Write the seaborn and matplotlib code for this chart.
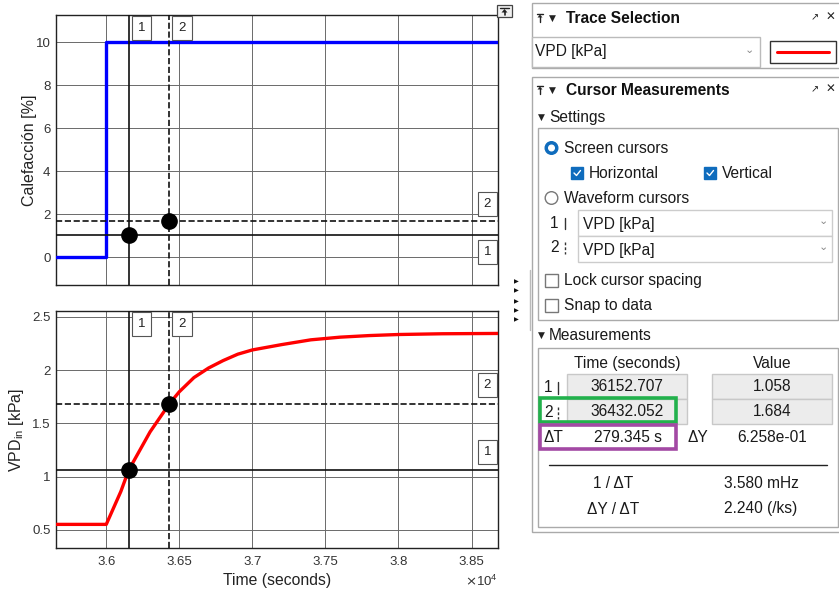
import numpy as np
import pandas as pd
import seaborn as sns
import matplotlib.pyplot as plt
from matplotlib.patches import Rectangle, Circle, Polygon

sns.set_style('white')
plt.rcParams['font.family'] = ['Liberation Sans', 'DejaVu Sans']

# signal data (time in seconds)
heat_t = [35656, 36000, 36000, 38681]
heat_v = [0, 0, 10, 10]
vpd_t = [35656, 36000, 36100, 36152.707, 36300, 36432.052, 36500, 36600, 36700, 36800,
         36900, 37000, 37200, 37400, 37600, 37800, 38000, 38300, 38681]
vpd_v = [0.55, 0.55, 0.86, 1.058, 1.42, 1.684, 1.797, 1.93, 2.02, 2.09,
         2.15, 2.19, 2.24, 2.285, 2.31, 2.325, 2.335, 2.342, 2.345]

# cursors
cursor_t = [36152.707, 36432.052]
cursor_v = [1.058, 1.684]
cursor_ls = ['-', '--']
cursor_lbl = ['1', '2']

xticks = [36000, 36500, 37000, 37500, 38000, 38500]
xtick_labels = ['3.6', '3.65', '3.7', '3.75', '3.8', '3.85']
top_yticks = [0, 2, 4, 6, 8, 10]
bot_yticks = [0.5, 1, 1.5, 2, 2.5]
bot_ytick_labels = ['0.5', '1', '1.5', '2', '2.5']

meas_time = ['36152.707', '36432.052']
meas_val = ['1.058', '1.684']
delta_t = '279.345 s'
delta_y = '6.258e-01'
inv_dt = '3.580 mHz'
dy_dt = '2.240 (/ks)'

W, H = 839, 591
fig = plt.figure(figsize=(W / 100, H / 100), dpi=100)


def px_axes(l, t, r, b):
    return fig.add_axes([l / W, 1 - b / H, (r - l) / W, (b - t) / H])


ax1 = px_axes(56, 15, 498, 285)
ax2 = px_axes(56, 311, 498, 548)

heat_df = pd.DataFrame({'t': heat_t, 'v': heat_v})
vpd_df = pd.DataFrame({'t': vpd_t, 'v': vpd_v})
sns.lineplot(data=heat_df, x='t', y='v', ax=ax1, color='#0000ff', lw=2.4,
             sort=False, estimator=None, zorder=3)
sns.lineplot(data=vpd_df, x='t', y='v', ax=ax2, color='#ff0000', lw=2.4,
             sort=False, estimator=None, zorder=3)

BOX = dict(boxstyle='square,pad=0.45', fc='white', ec='#555555', lw=0.8)

for ax in (ax1, ax2):
    ax.set_xlim(35656, 38681)
    ax.set_xticks(xticks)
    ax.grid(True, color='#6a6a6a', lw=0.7)
    ax.tick_params(length=0, labelsize=9.5, colors='#333333')
    ax.tick_params(axis='y', pad=4)
    ax.tick_params(axis='x', pad=6)
    for s in ax.spines.values():
        s.set_color('#222222')
        s.set_linewidth(1.0)
    ax.set_xlabel('')
    ax.set_ylabel('')
    for i in range(2):
        ax.axvline(cursor_t[i], color='#111111', ls=cursor_ls[i], lw=1.2, zorder=4)
        ax.axhline(cursor_v[i], color='#111111', ls=cursor_ls[i], lw=1.2, zorder=4)
        ax.plot(cursor_t[i], cursor_v[i], 'o', color='black', ms=11, zorder=5)
        ax.annotate(cursor_lbl[i], xy=(cursor_t[i], 1), xycoords=('data', 'axes fraction'),
                    xytext=(6.5, -4.8), textcoords='offset points', ha='left', va='top',
                    fontsize=9.5, color='#222222', bbox=BOX)

ax1.set_ylim(-1.29, 11.27)
ax1.set_yticks(top_yticks)
ax1.set_xticklabels([])
ax1.set_ylabel('Calefacción [%]', fontsize=11.5, color='#222222')
ax1.yaxis.set_label_coords(-19 / 442, 0.5)
# horizontal cursor tags (top): 2 above its line, 1 below its line
ax1.annotate('2', xy=(1, cursor_v[1]), xycoords=('axes fraction', 'data'),
             xytext=(-5, 8), textcoords='offset points', ha='right', va='bottom',
             fontsize=9.5, color='#222222', bbox=BOX)
ax1.annotate('1', xy=(1, cursor_v[0]), xycoords=('axes fraction', 'data'),
             xytext=(-5, -8.5), textcoords='offset points', ha='right', va='top',
             fontsize=9.5, color='#222222', bbox=BOX)

ax2.set_ylim(0.328, 2.556)
ax2.set_yticks(bot_yticks)
ax2.set_yticklabels(bot_ytick_labels)
ax2.set_xticklabels(xtick_labels)
ax2.set_ylabel(r'VPD$\mathregular{_{in}}$ [kPa]', fontsize=11.5, color='#222222')
ax2.yaxis.set_label_coords(-30 / 442, 0.5)
ax2.set_xlabel('Time (seconds)', fontsize=11.3, color='#222222', labelpad=3)
for i in range(2):
    ax2.annotate(cursor_lbl[i], xy=(1, cursor_v[i]), xycoords=('axes fraction', 'data'),
                 xytext=(-5, 9), textcoords='offset points', ha='right', va='bottom',
                 fontsize=9.5, color='#222222', bbox=BOX)

# overlay in pixel coordinates for the side panel
ov = fig.add_axes([0, 0, 1, 1], zorder=-1)
ov.set_xlim(0, W)
ov.set_ylim(H, 0)
ov.axis('off')
ov2 = fig.add_axes([0, 0, 1, 1], zorder=10)
ov2.set_xlim(0, W)
ov2.set_ylim(H, 0)
ov2.axis('off')
ov2.patch.set_alpha(0)

ov2.text(498, 581, r'$\times\mathregular{10^{4}}$', ha='right', va='center', fontsize=9.5, color='#333333')

# small maximize icon and arrows
ov2.add_patch(Rectangle((497, 5), 15, 12, fc='#f0f0f0', ec='#444444', lw=0.9))
ov2.plot([500, 509], [8, 8], color='#222222', lw=1)
ov2.add_patch(Polygon([[501.5, 12.5], [507.5, 12.5], [504.5, 9]], closed=True, fc='#222222', ec='none'))
ov2.plot([504.5, 504.5], [12, 15], color='#222222', lw=1.2)
for yy in [282, 291, 301.5, 311, 320]:
    ov2.text(516, yy, '▶', ha='center', va='center', fontsize=4.5, color='#111111')
ov.plot([530, 530], [270, 330], color='#bbbbbb', lw=1)

TXT = dict(fontsize=11.2, color='#1a1a1a', va='center')


def pin_icon(x, y):
    # small "pin/collapse" glyph drawn as a shape
    ov.plot([x - 3, x + 3], [y - 4.5, y - 4.5], color='#222222', lw=1)
    ov.add_patch(Polygon([[x - 2.5, y - 0.5], [x + 2.5, y - 0.5], [x, y - 3.5]], closed=True,
                         fc='#222222', ec='none'))
    ov.plot([x, x], [y - 1, y + 4], color='#222222', lw=1)


def header(y, title):
    pin_icon(540, y)
    ov.text(549, y, '▼', fontsize=6.5, va='center', color='#222222', family=['DejaVu Sans'])
    ov.text(566, y + 0.5, title, fontsize=11.2, fontweight='bold', va='center', color='#111111')
    ov.text(815, y - 1, '↗', fontsize=7, va='center', ha='center', color='#222222', family=['DejaVu Sans'])
    ov.text(830, y - 1, '✕', fontsize=8.5, va='center', ha='center', color='#222222', family=['DejaVu Sans'])


# Trace Selection panel
ov.add_patch(Rectangle((532, 3), 310, 65, fc='white', ec='#aaaaaa', lw=1))
header(18, 'Trace Selection')
ov.add_patch(Rectangle((532, 37), 228, 30, fc='white', ec='#bbbbbb', lw=1))
ov.text(535, 51.5, 'VPD [kPa]', **TXT)
ov.text(749, 50, '⌄', fontsize=8, va='center', ha='center', color='#888888', family=['DejaVu Sans'])
ov.add_patch(Rectangle((770, 41), 66, 22, fc='white', ec='#333333', lw=1))
ov.plot([777, 829], [51.5, 51.5], color='#ff0000', lw=2.2)

# Cursor Measurements panel
ov.add_patch(Rectangle((532, 77), 310, 455, fc='white', ec='#aaaaaa', lw=1))
header(90, 'Cursor Measurements')

ov.text(538, 117, '▼', fontsize=6.5, va='center', color='#222222', family=['DejaVu Sans'])
ov.text(549, 117.5, 'Settings', **TXT)
ov.add_patch(Rectangle((538, 128), 300, 192, fc='white', ec='#aaaaaa', lw=1))

ov.add_patch(Circle((551.5, 148), 6.3, fc='#0f6cbd', ec='#0f6cbd'))
ov.add_patch(Circle((551.5, 148), 2.8, fc='white', ec='white'))
ov.text(564, 148.5, 'Screen cursors', **TXT)
for cx, lab in [(577, 'Horizontal'), (710, 'Vertical')]:
    ov.add_patch(Rectangle((cx - 6, 167), 12, 12, fc='#0f6cbd', ec='#0f6cbd'))
    ov.plot([cx - 3, cx - 0.5, cx + 3.5], [173, 175.5, 170.5], color='white', lw=1)
    ov.text(cx + 12, 173, lab, **TXT)
ov.add_patch(Circle((551.5, 198), 6.3, fc='white', ec='#777777', lw=1))
ov.text(564, 198.5, 'Waveform cursors', **TXT)
ov.text(550, 223, '1', **TXT)
ov.plot([565, 565], [218, 229], color='#333333', lw=1)
ov.text(550, 247, '2', **TXT)
ov.plot([565, 565], [242, 254], color='#333333', lw=1, ls=(0, (2, 1.5)))
for yy in [210, 236]:
    ov.add_patch(Rectangle((578, yy), 254, 26, fc='white', ec='#cccccc', lw=1))
    ov.text(583, yy + 14, 'VPD [kPa]', **TXT)
    ov.text(823, yy + 11.5, '⌄', fontsize=8, va='center', ha='center', color='#888888', family=['DejaVu Sans'])
for yy, lab in [(280, 'Lock cursor spacing'), (305, 'Snap to data')]:
    ov.add_patch(Rectangle((545, yy - 6.5), 13, 13, fc='white', ec='#777777', lw=1))
    ov.text(564, yy + 0.5, lab, **TXT)

ov.text(538, 335, '▼', fontsize=6.5, va='center', color='#222222', family=['DejaVu Sans'])
ov.text(549, 335.5, 'Measurements', **TXT)
ov.add_patch(Rectangle((538, 348), 300, 179, fc='white', ec='#aaaaaa', lw=1))
ov.text(627, 363.5, 'Time (seconds)', ha='center', **TXT)
ov.text(772, 363.5, 'Value', ha='center', **TXT)
for i, yy in enumerate([373.5, 398.5]):
    ov.add_patch(Rectangle((567, yy), 120, 25, fc='#ececec', ec='#c8c8c8', lw=1))
    ov.add_patch(Rectangle((712, yy), 120, 25, fc='#ececec', ec='#c8c8c8', lw=1))
    ov.text(627, yy + 13, meas_time[i], ha='center', **TXT)
    ov.text(772, yy + 13, meas_val[i], ha='center', **TXT)
    ov.text(544, yy + 14, cursor_lbl[i], **TXT)
    ov.plot([558, 558], [yy + 8, yy + 20], color='#333333', lw=1,
            ls='-' if i == 0 else (0, (2, 1.5)))
ov2.add_patch(Rectangle((539.5, 398), 136, 24, fc='none', ec='#22b14c', lw=2.6))
ov2.add_patch(Rectangle((539.5, 424.5), 136, 24.5, fc='none', ec='#a349a4', lw=2.6))
ov.text(544, 437.5, 'ΔT', **TXT)
ov.text(628, 437.5, delta_t, ha='center', **TXT)
ov.text(687, 437.5, 'ΔY', **TXT)
ov.text(772, 437.5, delta_y, ha='center', **TXT)
ov.plot([549, 827], [465, 465], color='#222222', lw=1)
ov.text(613, 483.5, '1 / ΔT', ha='center', **TXT)
ov.text(761, 483.5, inv_dt, ha='center', **TXT)
ov.text(613, 509, 'ΔY / ΔT', ha='center', **TXT)
ov.text(761, 509, dy_dt, ha='center', **TXT)

fig.savefig('out.png', dpi=100, facecolor='white')
